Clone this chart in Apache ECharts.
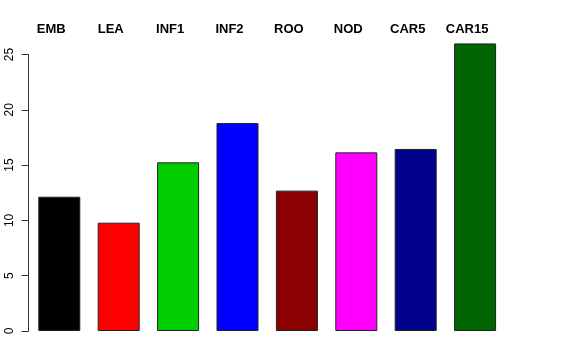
<!DOCTYPE html>
<html>
<head>
<meta charset="utf-8">
<script src="https://cdn.jsdelivr.net/npm/echarts@6/dist/echarts.min.js"></script>
<style>html,body{margin:0;padding:0;background:#fff;}#c{width:576px;height:360px;}</style>
</head>
<body>
<div id="c"></div>
<script>
const categories = ['EMB', 'LEA', 'INF1', 'INF2', 'ROO', 'NOD', 'CAR5', 'CAR15'];
const values = [12.14, 9.79, 15.25, 18.8, 12.69, 16.15, 16.46, 26.0];
const yTicks = [0, 5, 10, 15, 20, 25];

const barColors = ['#000000', '#FF0000', '#00CD00', '#0000FF', '#8B0000', '#FF00FF', '#00008B', '#006400'];
const FONT = 'Liberation Sans, Arial, Helvetica, sans-serif';

const chart = echarts.init(document.getElementById('c'), null, {renderer: 'canvas'});
const left = 29.6, right = 71.2, bottom = 29;
chart.setOption({
  animation: false,
  backgroundColor: '#ffffff',
  grid: [
    {left: left, right: right, top: 21.3, bottom: bottom},
    {left: left, right: right, top: 54.5, bottom: bottom}
  ],
  xAxis: [
    {gridIndex: 0, type: 'category', data: categories, show: false},
    {gridIndex: 1, type: 'category', data: categories, position: 'top',
     axisLine: {show: false}, axisTick: {show: false}, splitLine: {show: false},
     axisLabel: {margin: 19, padding: [0, 16, 0, 0], fontFamily: FONT, fontSize: 13, fontWeight: 'bold', color: '#000'}}
  ],
  yAxis: [
    {gridIndex: 0, type: 'value', min: 0, max: 28, show: false},
    {gridIndex: 1, type: 'value', min: yTicks[0], max: yTicks[yTicks.length - 1], interval: 5,
     offset: 1,
     axisLine: {show: true, lineStyle: {color: '#333', width: 1}},
     axisTick: {show: true, length: 7, lineStyle: {color: '#333', width: 1}},
     splitLine: {show: false},
     axisLabel: {rotate: 90, margin: 13, fontFamily: FONT, fontSize: 12, color: '#000'}}
  ],
  series: [{
    type: 'bar',
    xAxisIndex: 0, yAxisIndex: 0,
    barWidth: 42,
    data: values.map((v, i) => ({value: v, itemStyle: {color: barColors[i]}})),
    itemStyle: {borderColor: '#222', borderWidth: 1}
  }]
});
</script>
</body>
</html>
